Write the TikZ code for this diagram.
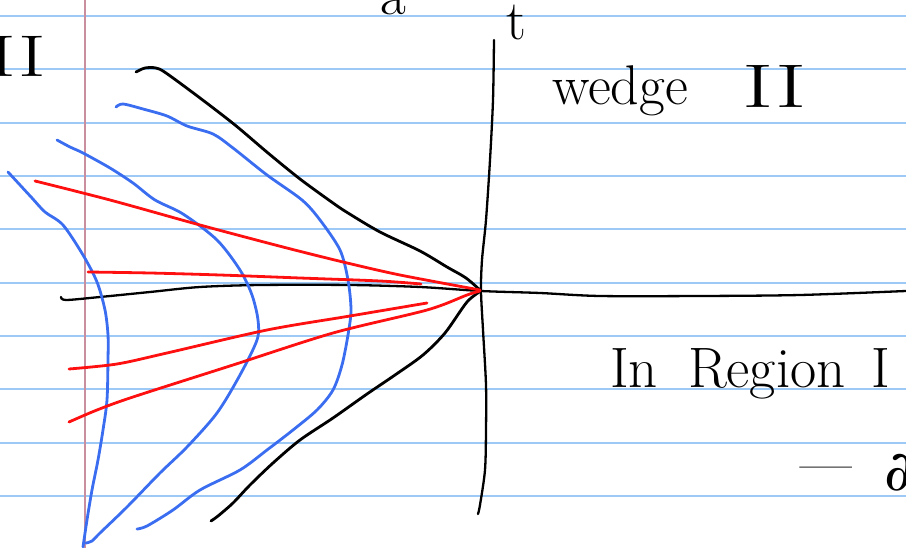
\documentclass[tikz,border=0pt]{standalone}
\usepackage{fontspec}
\newfontfamily\symbfont{DejaVu Serif}
\definecolor{rulecol}{HTML}{9CC9F5}
\definecolor{margincol}{HTML}{C98F9F}
\definecolor{inkblue}{HTML}{3A6DF0}
\definecolor{inkred}{HTML}{FF1010}
\begin{document}
\begin{tikzpicture}[x=1pt, y=-1pt,
    ruled/.style={rulecol, line width=2pt},
    ink/.style={line width=2.8pt, line cap=round, line join=round},
    hand/.style={inner sep=0pt, font=\fontsize{56}{64}\selectfont},
    bighand/.style={inner sep=0pt, font=\fontsize{57}{66}\selectfont}]
    \useasboundingbox (0,0) rectangle (906,548);
    \clip (0,0) rectangle (906,548);
    % notebook paper
    \foreach \k in {0,...,9}
      \draw[ruled] (0,16+53.33*\k) -- (906,16+53.33*\k);
    \draw[margincol, line width=1.4pt] (85,0) -- (85,548);
    % axes
    \draw[ink, black, line width=2.3pt] plot[smooth] coordinates {(61,297) (66,300) (100,297) (150,292)
      (200,287) (260,285) (350,285) (420,287) (481,291) (540,293) (600,296) (700,296) (800,295) (906,291)};
    \draw[ink, black, line width=2.3pt] plot[smooth] coordinates {(494,40) (493,100) (490,160) (486,220)
      (482,260) (481,291) (483,330) (486,385) (486,430) (485,470) (480,505) (478,514)};
    % wedge boundaries
    \draw[ink, black] plot[smooth] coordinates {(136,72) (145,68) (156,68) (166,73) (200,98) (235,125)
      (268,153) (300,179) (333,203) (348,213) (380,232) (420,251) (447,267) (466,278) (481,291)};
    \draw[ink, black] plot[smooth] coordinates {(481,291) (467,302) (445,333) (423,355) (395,375)
      (367,394) (333,418) (300,440) (273,463) (250,485) (233,503) (218,516) (211,521)};
    % hyperbolae
    \draw[ink, inkblue] plot[smooth] coordinates {(8,172) (20,185) (32,198) (45,212) (63,225) (83,255)
      (97,282) (105,310) (108,335) (108,360) (107,400) (103,430) (98,460) (92,490) (87,520) (83,547)};
    \draw[ink, inkblue] plot[smooth] coordinates {(57,140) (70,147) (83,153) (110,168) (133,183)
      (155,200) (183,214) (217,240) (240,270) (252,295) (258,320) (257,340) (240,375) (217,413)
      (187,447) (160,473) (127,507) (100,533) (92,541) (86,543)};
    \draw[ink, inkblue] plot[smooth] coordinates {(116,107) (123,104) (143,109) (167,116) (187,126)
      (213,134) (233,148) (267,175) (302,200) (320,220) (340,250) (348,280) (351,310) (348,335)
      (342,365) (333,390) (317,410) (293,430) (267,450) (240,470) (200,490) (173,510) (147,526) (137,529)};
    % rays through the origin
    \draw[ink, inkred] plot[smooth] coordinates {(35,181) (110,200) (200,225) (283,247) (343,262)
      (400,275) (480,290)};
    \draw[ink, inkred] plot[smooth] coordinates {(88,272) (150,273) (220,275) (300,278) (380,281) (421,284)};
    \draw[ink, inkred] plot[smooth] coordinates {(69,369) (117,364) (167,353) (267,330) (350,316) (427,303)};
    \draw[ink, inkred] plot[smooth] coordinates {(69,422) (97,410) (133,397) (233,365) (333,333)
      (427,310) (467,295) (480,291)};
    % labels
    \node[hand, anchor=base west] (tlab) at (506,40) {t};
    \node[hand, anchor=base west] (alab) at (380,15) {a};
    \node[hand, anchor=base east] (leftII) at (46,77) {\scalebox{1.5}[1.05]{II}};
    \node[hand, anchor=base west] (wedge) at (552,105) {wedge};
    \node[hand, anchor=base west] (wedgeII) at (742,108) {\scalebox{1.7}[1.1]{II}};
    \node[hand, anchor=base west] (edgeI) at (904,108) {\scalebox{1}[1.5]{I}};
    \node[bighand, anchor=base west] (region) at (610,388)
      {In\hspace{30pt}Region\hspace{26pt}I};
    \node[hand, anchor=base west] (minus) at (800,482) {\scalebox{2}[1]{–}};
    \node[hand, anchor=base west] (dpart) at (884,490) {\symbfont ∂};
\end{tikzpicture}
\end{document}
